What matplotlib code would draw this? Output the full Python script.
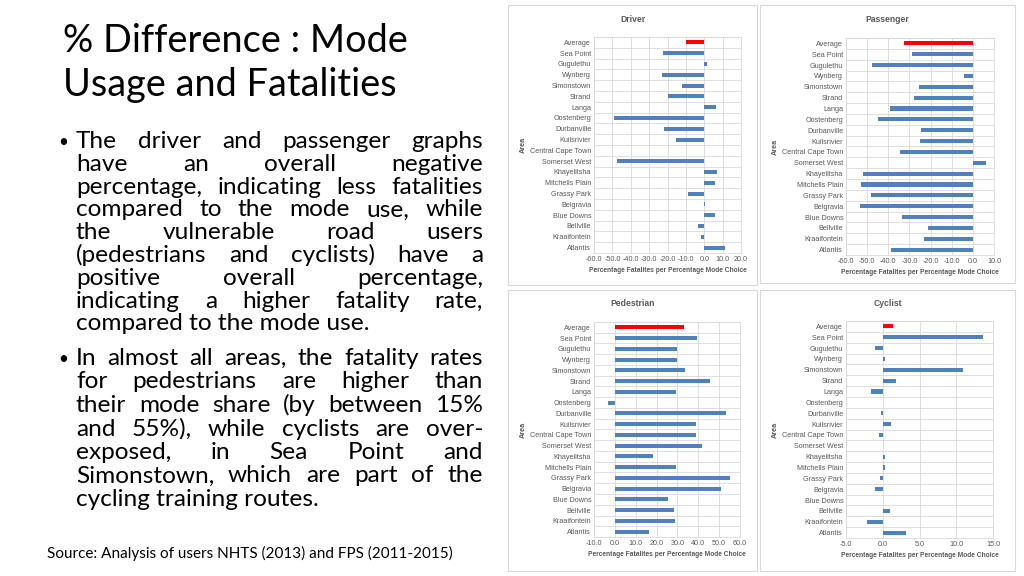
import matplotlib
matplotlib.use("Agg")
import matplotlib.pyplot as plt
from matplotlib.patches import Rectangle
import numpy as np

# --- data ---
areas = ["Average", "Sea Point", "Gugulethu", "Wynberg", "Simonstown", "Strand",
         "Langa", "Oostenberg", "Durbanville", "Kuilsrivier", "Central Cape Town",
         "Somerset West", "Khayelitsha", "Mitchells Plain", "Grassy Park",
         "Belgravia", "Blue Downs", "Bellville", "Kraaifontein", "Atlantis"]

driver = [-10.0, -22.6, 1.3, -23.0, -12.0, -20.0, 6.3, -49.0, -21.7, -15.4,
          -0.3, -47.5, 7.0, 6.0, -9.0, 0.4, 6.1, -3.6, -2.0, 11.4]
passenger = [-32.5, -28.7, -47.7, -4.3, -25.3, -27.8, -39.3, -44.9, -24.3, -25.0,
             -34.4, 6.3, -51.8, -52.8, -48.2, -53.2, -33.5, -21.0, -23.0, -38.5]
pedestrian = [33.1, 39.4, 29.9, 29.9, 33.4, 45.8, 29.3, -3.2, 53.1, 38.7,
              38.7, 41.8, 18.1, 29.1, 55.2, 50.7, 25.3, 28.3, 28.6, 16.5]
cyclist = [1.35, 13.6, -1.0, 0.27, 10.9, 1.85, -1.6, 0.0, -0.2, 1.1,
           -0.5, 0.0, 0.27, 0.27, -0.35, -1.1, 0.05, 1.05, -2.1, 3.1]

x_label = "Percentage Fatalites per Percentage Mode Choice"

title_lines = ["% Difference : Mode", "Usage and Fatalities"]
bullet1 = ["The driver and passenger graphs",
           "have an overall negative",
           "percentage, indicating less fatalities",
           "compared to the mode use, while",
           "the vulnerable road users",
           "(pedestrians and cyclists) have a",
           "positive overall percentage,",
           "indicating a higher fatality rate,",
           "compared to the mode use."]
bullet2 = ["In almost all areas, the fatality rates",
           "for pedestrians are higher than",
           "their mode share (by between 15%",
           "and 55%), while cyclists are over-",
           "exposed, in Sea Point and",
           "Simonstown, which are part of the",
           "cycling training routes."]
source = "Source: Analysis of users NHTS (2013) and FPS (2011-2015)"

W, H = 1024, 576
fig = plt.figure(figsize=(W / 100, H / 100), dpi=100)
fig.patch.set_facecolor("white")
renderer = fig.canvas.get_renderer()

SLIDE_FONT = ["Lato", "DejaVu Sans"]
CHART_FONT = ["Liberation Sans", "DejaVu Sans"]
GRID = "#D9D9D9"
TXT = "#595959"


def fx(px):
    return px / W


def fy(py):
    return 1 - py / H


def width_of(s, size, **kw):
    t = fig.text(0, 0, s, fontsize=size, family=SLIDE_FONT, **kw)
    w = t.get_window_extent(renderer).width
    t.remove()
    return w


def fit_size(s, target, **kw):
    return 20 * target / width_of(s, 20, **kw)


def justified(x0, x1, y, line, size):
    words = line.split()
    texts = [fig.text(0, fy(y), w, fontsize=size, family=SLIDE_FONT,
                      va="baseline", color="black") for w in words]
    widths = [t.get_window_extent(renderer).width for t in texts]
    gap = (x1 - x0 - sum(widths)) / (len(words) - 1)
    x = x0
    for t, w in zip(texts, widths):
        t.set_x(fx(x))
        x += w + gap


# --- left side: title, bullets, source ---
tsize = fit_size(title_lines[0], 345)
for line, yb in zip(title_lines, [52, 96]):
    fig.text(fx(63), fy(yb), line, fontsize=tsize, family=SLIDE_FONT,
             va="baseline", color="black")

bsize = fit_size(bullet1[2], 405) * 0.94
for lines, y0, step in [(bullet1, 148, 22.8), (bullet2, 365, 23.5)]:
    fig.text(fx(58), fy(y0 - 6), "\u2022", fontsize=bsize * 0.7,
             family=SLIDE_FONT, va="center")
    for i, line in enumerate(lines):
        y = y0 + i * step
        if i == len(lines) - 1:
            fig.text(fx(76), fy(y), line, fontsize=bsize, family=SLIDE_FONT,
                     va="baseline")
        else:
            justified(76, 483, y, line, bsize)

ssize = fit_size(source, 405)
fig.text(fx(47), fy(558), source, fontsize=ssize, family=SLIDE_FONT,
         va="baseline")

# --- right side: four bar charts ---
panels = [
    ("Driver", driver, (-60, 20, 10), (508, 5, 757, 285), (594, 37, 741, 253)),
    ("Passenger", passenger, (-60, 10, 10), (760, 5, 1015, 283), (846, 38, 994, 255)),
    ("Pedestrian", pedestrian, (-10, 60, 10), (508, 290, 757, 571), (594, 322, 740, 537)),
    ("Cyclist", cyclist, (-5, 15, 5), (760, 290, 1015, 571), (846, 321, 993, 538)),
]

y = np.arange(len(areas))
for name, vals, (lo, hi, step), frame, box in panels:
    fl, ft, fr, fb = frame
    fig.patches.append(Rectangle((fx(fl), fy(fb)), fx(fr - fl), (fb - ft) / H,
                                 transform=fig.transFigure, fill=False,
                                 edgecolor=GRID, linewidth=0.8))
    l, t, r, b = box
    ax = fig.add_axes([fx(l), fy(b), fx(r - l), (b - t) / H])
    colors = ["#FF0000"] + ["#4F81BD"] * (len(areas) - 1)
    ax.barh(y, vals, height=0.38, color=colors, zorder=3)
    ax.set_xlim(lo, hi)
    ax.set_ylim(len(areas) - 0.5, -0.5)
    ticks = np.arange(lo, hi + step / 2, step)
    ax.set_xticks(ticks)
    ax.set_xticklabels([f"{v:.1f}" for v in ticks],
                       fontsize=5.2, color=TXT, family=CHART_FONT)
    ax.set_yticks(y)
    ax.set_yticklabels(areas, fontsize=5.2, color=TXT, family=CHART_FONT)
    ax.set_yticks(np.arange(len(areas) + 1) - 0.5, minor=True)
    ax.tick_params(which="both", length=0, pad=2)
    ax.grid(axis="x", color=GRID, linewidth=0.6, zorder=0)
    ax.grid(axis="y", which="minor", color=GRID, linewidth=0.6, zorder=0)
    for s in ax.spines.values():
        s.set_color(GRID)
        s.set_linewidth(0.6)
    ax.set_xlabel(x_label, fontsize=4.8, color=TXT, weight="bold",
                  family=CHART_FONT, labelpad=3)
    ax.set_ylabel("Area", fontsize=5.2, color=TXT, weight="bold",
                  family=CHART_FONT, labelpad=2)
    fig.text(fx((fl + fr) / 2), fy(ft + 14), name, fontsize=6.2, color=TXT,
             weight="bold", family=CHART_FONT, ha="center", va="center")

fig.savefig("out.png", dpi=100)
